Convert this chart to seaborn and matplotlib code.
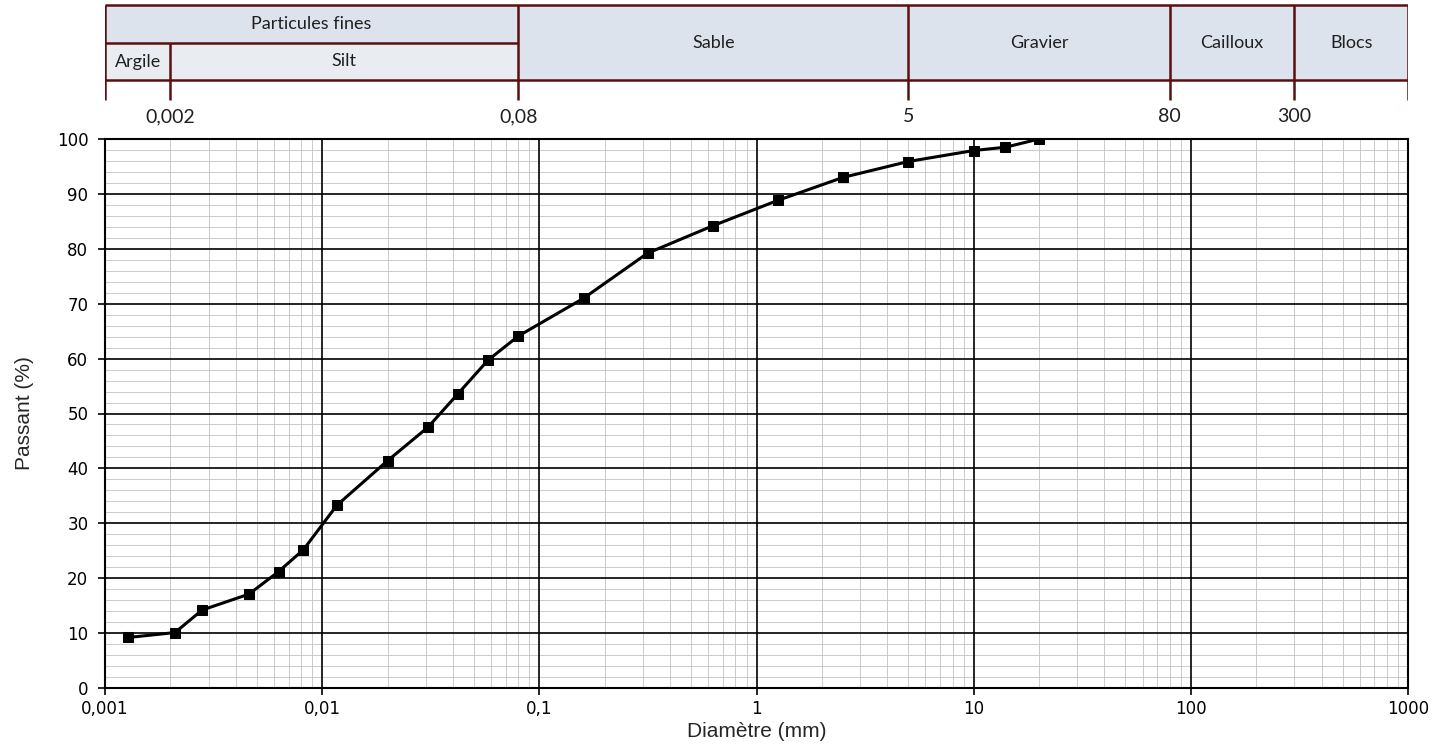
import numpy as np
import pandas as pd
import matplotlib
matplotlib.use("Agg")
import matplotlib.pyplot as plt
import matplotlib.ticker as mticker
import seaborn as sns

# courbe granulometrique
diametre = [0.00128, 0.0021, 0.0028, 0.0046, 0.0063, 0.0082, 0.0117, 0.02, 0.0307,
            0.0422, 0.058, 0.08, 0.16, 0.315, 0.63, 1.25, 2.5, 5, 10, 14, 20]
passant = [9.2, 10.1, 14.2, 17.1, 21.2, 25.2, 33.3, 41.4, 47.5,
           53.6, 59.7, 64.1, 71.0, 79.2, 84.2, 88.8, 93.0, 95.9, 97.9, 98.5, 100]

x_ticks = [0.001, 0.01, 0.1, 1, 10, 100, 1000]
x_labels = ["0,001", "0,01", "0,1", "1", "10", "100", "1000"]
y_ticks = list(range(0, 101, 10))

# classes granulometriques (bandeau du haut)
classes_bas = ["Argile", "Silt"]
bornes_bas = [(0.001, 0.002), (0.002, 0.08)]
classe_fines = "Particules fines"
classes_haut = ["Sable", "Gravier", "Cailloux", "Blocs"]
bornes_haut = [(0.08, 5), (5, 80), (80, 300), (300, 1000)]
bornes = [0.002, 0.08, 5, 80, 300]
bornes_labels = ["0,002", "0,08", "5", "80", "300"]

df = pd.DataFrame({"Diametre": diametre, "Passant": passant})

sns.set_style("white")
plt.rcParams["font.family"] = ["DejaVu Sans"]

W, H = 1444, 752
fig = plt.figure(figsize=(W / 100, H / 100), dpi=100)
left, right = 105 / W, 1408 / W
ax = fig.add_axes([left, (H - 688) / H, right - left, (688 - 139) / H])
hx = fig.add_axes([left, (H - 139) / H, right - left, 139 / H], sharex=ax)

ax.set_xscale("log")
ax.set_xlim(0.001, 1000)
ax.set_ylim(0, 100)

# grille secondaire, puis grille principale par-dessus
ax.xaxis.set_minor_locator(mticker.LogLocator(base=10, subs=np.arange(2, 10), numticks=20))
ax.yaxis.set_minor_locator(mticker.MultipleLocator(2))
ax.grid(which="minor", color="#c3c3c3", linewidth=0.6)
ax.grid(which="major", visible=False)
ax.set_axisbelow(True)
for xv in x_ticks:
    ax.axvline(xv, color="black", linewidth=1.2, zorder=1)
for yv in y_ticks:
    ax.axhline(yv, color="black", linewidth=1.2, zorder=1)

sns.lineplot(data=df, x="Diametre", y="Passant", ax=ax, sort=False, color="black",
             linewidth=2.2, marker="s", markersize=7, markeredgecolor="black",
             markerfacecolor="black", zorder=5)

ax.set_xticks(x_ticks)
ax.set_xticklabels(x_labels)
ax.set_yticks(y_ticks)
ax.tick_params(axis="both", which="major", direction="out", length=5, width=1.2,
               colors="black", labelsize=12, bottom=True, left=True)
ax.tick_params(axis="y", which="major", pad=7)
ax.tick_params(axis="both", which="minor", length=0)
ax.xaxis.set_minor_formatter(mticker.NullFormatter())
for s in ax.spines.values():
    s.set_color("black")
    s.set_linewidth(1.5)
axe_police = ["Liberation Sans", "DejaVu Sans"]
ax.set_xlabel("Diamètre (mm)", fontsize=15, labelpad=3, family=axe_police)
ax.set_ylabel("Passant (%)", fontsize=15, labelpad=16, family=axe_police)

# bandeau des classes
hx.set_ylim(139, 0)
hx.axis("off")
bord = "#5a1010"
fond = "#dce3ec"
fond_clair = "#e9edf2"
police = ["Lato", "DejaVu Sans"]
y_haut, y_mil, y_bas, y_trait = 5, 43, 80, 100

hx.fill_between([0.001, 0.08], y_haut, y_mil, color=fond, lw=0)
hx.text(np.sqrt(0.001 * 0.08), (y_haut + y_mil) / 2, classe_fines, ha="center", va="center",
        fontsize=13, family=police, color="#202020")
for nom, (a, b) in zip(classes_bas, bornes_bas):
    hx.fill_between([a, b], y_mil, y_bas, color=fond_clair, lw=0)
    hx.text(np.sqrt(a * b), (y_mil + y_bas) / 2, nom, ha="center", va="center",
            fontsize=13, family=police, color="#202020")
for nom, (a, b) in zip(classes_haut, bornes_haut):
    hx.fill_between([a, b], y_haut, y_bas, color=fond, lw=0)
    hx.text(np.sqrt(a * b), (y_haut + y_bas) / 2, nom, ha="center", va="center",
            fontsize=13, family=police, color="#202020")

hx.hlines([y_haut, y_bas], 0.001, 1000, color=bord, lw=1.8)
hx.hlines(y_mil, 0.001, 0.08, color=bord, lw=1.8)
hx.vlines([0.001, 0.08, 5, 80, 300, 1000], y_haut, y_trait, color=bord, lw=1.8)
hx.vlines(0.002, y_mil, y_trait, color=bord, lw=1.8)
for b, lab in zip(bornes, bornes_labels):
    hx.text(b, 117, lab, ha="center", va="center", fontsize=14,
            family=police, color="#202020")

fig.savefig("out.png", dpi=100)
